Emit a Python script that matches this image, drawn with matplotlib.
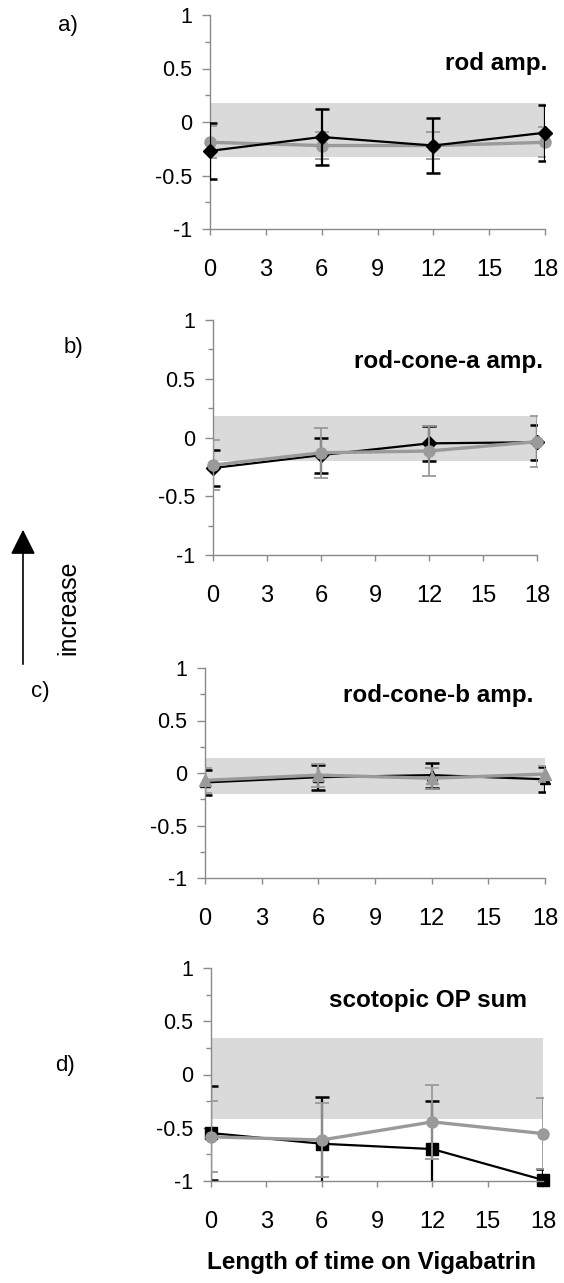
#!/usr/bin/env python3
"""
plot.py - four stacked ERG panels (rod / rod-cone-a / rod-cone-b / OP sum)
vs length of time on Vigabatrin, with normal range band.
"""
import matplotlib
matplotlib.use("Agg")
import matplotlib.pyplot as plt
from matplotlib.ticker import MultipleLocator

plt.rcParams["font.family"] = ["Liberation Sans", "DejaVu Sans"]

months = [0, 6, 12, 18]
x_ticks = [0, 3, 6, 9, 12, 15, 18]
y_ticks = [-1, -0.5, 0, 0.5, 1]
y_ticklabels = ["-1", "-0.5", "0", "0.5", "1"]

titles = ["rod amp.", "rod-cone-a amp.", "rod-cone-b amp.", "scotopic OP sum"]
letters = ["a)", "b)", "c)", "d)"]

# normal range (low, high) per panel
bands = [(-0.33, 0.18), (-0.20, 0.18), (-0.20, 0.14), (-0.42, 0.34)]

# black series
black_a = [-0.27, -0.14, -0.22, -0.10]
black_a_err = [0.26, 0.26, 0.26, 0.26]
black_b = [-0.26, -0.15, -0.05, -0.04]
black_b_err = [0.15, 0.15, 0.15, 0.15]
black_c = [-0.09, -0.04, -0.02, -0.06]
black_c_err = [0.12, 0.12, 0.12, 0.12]
black_d = [-0.55, -0.65, -0.70, -0.99]
black_d_err = [0.44, 0.44, 0.45, 0.10]

# gray series
gray_a = [-0.19, -0.22, -0.22, -0.19]
gray_a_err = [0.15, 0.13, 0.13, 0.14]
gray_b = [-0.235, -0.13, -0.115, -0.035]
gray_b_err = [0.215, 0.215, 0.215, 0.215]
gray_c = [-0.07, -0.02, -0.05, -0.01]
gray_c_err = [0.12, 0.11, 0.10, 0.08]
gray_d = [-0.585, -0.615, -0.445, -0.555]
gray_d_err = [0.335, 0.345, 0.345, 0.335]

blacks = [(black_a, black_a_err), (black_b, black_b_err),
          (black_c, black_c_err), (black_d, black_d_err)]
grays = [(gray_a, gray_a_err), (gray_b, gray_b_err),
         (gray_c, gray_c_err), (gray_d, gray_d_err)]
black_markers = ["D", "D", "^", "s"]
gray_markers = ["o", "o", "^", "o"]

W, H = 564, 1283
# axes boxes in pixels: left, top, right, bottom
boxes = [(210, 15, 545, 229), (213, 320, 537, 555),
         (205, 668, 545, 878), (211, 968, 543, 1181)]
title_pos = [(1.006, 0.743), (1.019, 0.796), (0.965, 0.838), (0.952, 0.817)]
letter_pos = [(68, 25), (73, 347), (40, 692), (65, 1065)]

GRAY = "#9a9a9a"
AXC = "#8a8a8a"

fig = plt.figure(figsize=(W / 100, H / 100), dpi=100)

for i in range(4):
    l, t, r, b = boxes[i]
    ax = fig.add_axes([l / W, 1 - b / H, (r - l) / W, (b - t) / H])
    ax.axhspan(bands[i][0], bands[i][1], color="#dadada", lw=0, zorder=0)

    gy, ge = grays[i]
    by, be = blacks[i]
    gz, bz = (2, 3) if i == 0 else (3, 2)
    g = ax.errorbar(months, gy, yerr=ge, color=GRAY, lw=2.4, marker=gray_markers[i],
                    ms=8, elinewidth=1.3, capsize=5, capthick=1.3, zorder=gz)
    k = ax.errorbar(months, by, yerr=be, color="black", lw=1.6, marker=black_markers[i],
                    ms=7.5 if i < 3 else 8.5, elinewidth=1.6, capsize=5, capthick=1.8,
                    zorder=bz)
    # let markers on the x limits show whole
    g[0].set_clip_on(False)
    k[0].set_clip_on(False)

    ax.set_xlim(0, 18)
    ax.set_ylim(-1, 1)
    ax.set_xticks(x_ticks)
    ax.set_yticks(y_ticks)
    ax.set_yticklabels(y_ticklabels)
    ax.yaxis.set_minor_locator(MultipleLocator(0.25))
    for side in ["top", "right"]:
        ax.spines[side].set_visible(False)
    for side in ["left", "bottom"]:
        ax.spines[side].set_color(AXC)
        ax.spines[side].set_linewidth(1.0)
    ax.tick_params(axis="x", length=4.5, width=1, color=AXC, pad=17, labelsize=17)
    ax.tick_params(axis="y", which="major", length=6, width=1, color=AXC,
                   pad=7, labelsize=15.5)
    ax.tick_params(axis="y", which="minor", length=3.5, width=1, color=AXC)
    ax.patch.set_alpha(0)

    tx, ty = title_pos[i]
    ax.text(tx, ty, titles[i], transform=ax.transAxes, ha="right", va="baseline",
            fontsize=17.5, fontweight="bold")

    lx, ly = letter_pos[i]
    fig.text(lx / W, 1 - ly / H, letters[i], ha="center", va="center", fontsize=16)

fig.text(371.5 / W, 1 - 1262 / H, "Length of time on Vigabatrin", ha="center",
         va="center", fontsize=17.5, fontweight="bold")

# "increase" arrow
fig.patches.append(matplotlib.patches.FancyArrowPatch(
    (23 / W, 1 - 667 / H), (23 / W, 1 - 527 / H), transform=fig.transFigure,
    arrowstyle="-|>,head_length=7,head_width=3.5", mutation_scale=2.2,
    color="black", lw=1.2))
fig.text(68 / W, 1 - 608 / H, "increase", rotation=90, ha="center", va="center",
         fontsize=18)

fig.savefig("out.png", dpi=100)
